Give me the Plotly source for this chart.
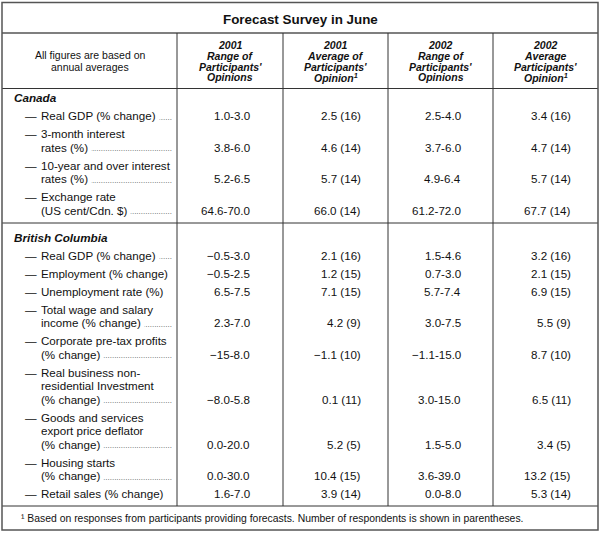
import plotly.graph_objects as go

# ---------------- data ----------------
title = "Forecast Survey in June"
stub_header = ["All figures are based on", "annual averages"]
col_headers = [
    ["2001", "Range of", "Participants'", "Opinions"],
    ["2001", "Average of", "Participants'", "Opinion<sup>1</sup>"],
    ["2002", "Range of", "Participants'", "Opinions"],
    ["2002", "Average", "Participants'", "Opinion<sup>1</sup>"],
]

sections = ["Canada", "British Columbia"]

canada_labels = [
    ["Real GDP (% change)"],
    ["3-month interest", "rates (%)"],
    ["10-year and over interest", "rates (%)"],
    ["Exchange rate", "(US cent/Cdn. $)"],
]
canada_leaders = [True, True, True, True]
canada_range_2001 = ["1.0-3.0", "3.8-6.0", "5.2-6.5", "64.6-70.0"]
canada_avg_2001 = ["2.5 (16)", "4.6 (14)", "5.7 (14)", "66.0 (14)"]
canada_range_2002 = ["2.5-4.0", "3.7-6.0", "4.9-6.4", "61.2-72.0"]
canada_avg_2002 = ["3.4 (16)", "4.7 (14)", "5.7 (14)", "67.7 (14)"]

bc_labels = [
    ["Real GDP (% change)"],
    ["Employment (% change)"],
    ["Unemployment rate (%)"],
    ["Total wage and salary", "income (% change)"],
    ["Corporate pre-tax profits", "(% change)"],
    ["Real business non-", "residential Investment", "(% change)"],
    ["Goods and services", "export price deflator", "(% change)"],
    ["Housing starts", "(% change)"],
    ["Retail sales (% change)"],
]
bc_leaders = [True, False, False, True, True, True, True, True, False]
bc_range_2001 = ["\u22120.5-3.0", "\u22120.5-2.5", "6.5-7.5", "2.3-7.0", "\u221215-8.0",
                 "\u22128.0-5.8", "0.0-20.0", "0.0-30.0", "1.6-7.0"]
bc_avg_2001 = ["2.1 (16)", "1.2 (15)", "7.1 (15)", "4.2 (9)", "\u22121.1 (10)",
               "0.1 (11)", "5.2 (5)", "10.4 (15)", "3.9 (14)"]
bc_range_2002 = ["1.5-4.6", "0.7-3.0", "5.7-7.4", "3.0-7.5", "\u22121.1-15.0",
                 "3.0-15.0", "1.5-5.0", "3.6-39.0", "0.0-8.0"]
bc_avg_2002 = ["3.2 (16)", "2.1 (15)", "6.9 (15)", "5.5 (9)", "8.7 (10)",
               "6.5 (11)", "3.4 (5)", "13.2 (15)", "5.3 (14)"]

footnote = "\u00b9 Based on responses from participants providing forecasts. Number of respondents is shown in parentheses."

# ---------------- layout constants ----------------
W, H = 600, 533
FONT = "Liberation Sans, Arial, Helvetica, sans-serif"
TXT = "#111111"
LINE = "#333333"
col_edges = [2, 177, 283, 388, 493, 598]
value_right = [250, 361, 461, 571]
TOP, BOTTOM = 2.5, 530
title_line = 33
header_line = 88.5
row_gap = 18
line_gap = 13.5
dash_x, text_x, leader_end = 25, 41, 172
BODY = 11.6
PAD = 2  # default annotation borderpad(1)+borderwidth(1)

annotations = []
shapes = []


def ann(x, y, text, size=BODY, xanchor="left", bold=False, italic=False, pad=PAD, **kw):
    t = text
    if bold:
        t = "<b>" + t + "</b>"
    if italic:
        t = "<i>" + t + "</i>"
    if xanchor == "left":
        x = x - pad
    elif xanchor == "right":
        x = x + pad
    a = dict(x=x, y=y, xref="x", yref="y", text=t, showarrow=False,
             xanchor=xanchor, yanchor="middle",
             font=dict(family=FONT, size=size, color=TXT))
    a.update(kw)
    annotations.append(a)


def hline(y, x0=col_edges[0], x1=col_edges[-1], w=1.0, color=LINE):
    shapes.append(dict(type="line", xref="x", yref="y", x0=x0, x1=x1, y0=y, y1=y,
                       line=dict(color=color, width=w)))


# title
ann(W / 2, (TOP + title_line) / 2 + 1.5, title, size=13.4, xanchor="center", bold=True)

# header
hdr_mid = (title_line + header_line) / 2 + 0.5
ann((col_edges[0] + col_edges[1]) / 2, hdr_mid - 6, stub_header[0], size=10.5, xanchor="center")
ann((col_edges[0] + col_edges[1]) / 2, hdr_mid + 6, stub_header[1], size=10.5, xanchor="center")
for i, lines in enumerate(col_headers):
    cx = (col_edges[i + 1] + col_edges[i + 2]) / 2
    n = len(lines)
    for k, ln in enumerate(lines):
        y = hdr_mid + (k - (n - 1) / 2) * 10.7
        ann(cx, y, ln, size=10.5, xanchor="center", bold=True, italic=True)


def draw_section(label_y, name, labels, leaders, cols):
    ann(14, label_y, name, size=11.7, bold=True, italic=True)
    y = label_y + row_gap
    last = y
    for r, lines in enumerate(labels):
        n = len(lines)
        vy = y + (n - 1) * line_gap
        # last line first (leader dots + white-backed label), earlier lines drawn on top
        if leaders[r]:
            ann(leader_end, vy, "." * 58, size=8, xanchor="right", yshift=-1.6,
                font=dict(family=FONT, size=8, color="#555555"))
            ann(text_x, vy, lines[-1], size=BODY, bgcolor="white", borderpad=3, pad=4)
        else:
            ann(text_x, vy, lines[-1], size=BODY)
        for k in range(n - 1):
            ann(text_x, y + k * line_gap, lines[k], size=BODY)
        ann(dash_x, y, "\u2014", size=BODY)
        for c, vals in enumerate(cols):
            ann(value_right[c], vy, vals[r], size=BODY, xanchor="right")
        last = vy
        y = vy + row_gap
    return last


canada_label_y = header_line + 9
last_ca = draw_section(canada_label_y, sections[0], canada_labels, canada_leaders,
                       [canada_range_2001, canada_avg_2001, canada_range_2002, canada_avg_2002])
div1 = last_ca + 13
bc_label_y = div1 + 14
last_bc = draw_section(bc_label_y, sections[1], bc_labels, bc_leaders,
                       [bc_range_2001, bc_avg_2001, bc_range_2002, bc_avg_2002])
div2 = last_bc + 12.5

# footnote
ann(21, (div2 + BOTTOM) / 2 + 0.5, footnote, size=10.4)

# lines
hline(title_line, w=1.3, color="#555555")
hline(header_line, w=1.0)
hline(div1, w=1.0)
hline(div2, w=1.0)
for x in col_edges[1:-1]:
    shapes.append(dict(type="line", xref="x", yref="y", x0=x, x1=x, y0=title_line, y1=div2,
                       line=dict(color=LINE, width=1.0)))
shapes.append(dict(type="rect", xref="x", yref="y", x0=col_edges[0], x1=col_edges[-1],
                   y0=TOP, y1=BOTTOM, line=dict(color="#555555", width=1.5)))

fig = go.Figure()
fig.update_layout(
    width=W, height=H, autosize=False,
    margin=dict(l=0, r=0, t=0, b=0),
    paper_bgcolor="white", plot_bgcolor="white",
    xaxis=dict(range=[0, W], visible=False, fixedrange=True),
    yaxis=dict(range=[H, 0], visible=False, fixedrange=True),
    showlegend=False,
    annotations=annotations,
    shapes=shapes,
)
fig.write_html(
    "out.html",
    config={"displayModeBar": False},
    post_script="document.body.style.margin='0';document.body.style.overflow='hidden';",
)
